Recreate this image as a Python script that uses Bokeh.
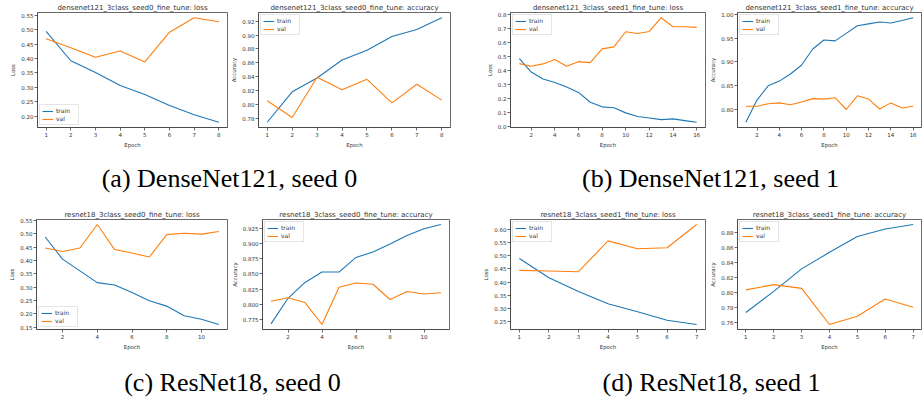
from bokeh.plotting import figure
from bokeh.layouts import column, row
from bokeh.models import Range1d, FixedTicker, Label, NumeralTickFormatter
from bokeh.embed import file_html
from bokeh.resources import INLINE

# ---- training curves (per-epoch values) ----
dn0_epochs = [1, 2, 3, 4, 5, 6, 7, 8]
dn0_loss_train = [0.494, 0.392, 0.351, 0.306, 0.275, 0.237, 0.205, 0.179]
dn0_loss_val = [0.468, 0.437, 0.404, 0.426, 0.388, 0.491, 0.541, 0.527]
dn0_acc_train = [0.774, 0.818, 0.838, 0.864, 0.878, 0.898, 0.908, 0.925]
dn0_acc_val = [0.805, 0.781, 0.839, 0.821, 0.836, 0.802, 0.829, 0.806]

dn1_epochs = list(range(1, 17))
dn1_loss_train = [0.485, 0.389, 0.339, 0.315, 0.282, 0.244, 0.174, 0.141,
                  0.134, 0.098, 0.072, 0.062, 0.050, 0.055, 0.043, 0.031]
dn1_loss_val = [0.449, 0.430, 0.447, 0.478, 0.430, 0.463, 0.456, 0.554,
                0.568, 0.676, 0.664, 0.678, 0.776, 0.712, 0.712, 0.707]
dn1_acc_train = [0.772, 0.819, 0.849, 0.859, 0.874, 0.893, 0.927, 0.946,
                 0.944, 0.960, 0.976, 0.980, 0.984, 0.982, 0.987, 0.993]
dn1_acc_val = [0.806, 0.806, 0.811, 0.813, 0.809, 0.815, 0.822, 0.821,
               0.824, 0.799, 0.828, 0.821, 0.800, 0.813, 0.802, 0.806]

rn0_epochs = list(range(1, 12))
rn0_loss_train = [0.488, 0.405, 0.361, 0.317, 0.308, 0.280, 0.249, 0.229, 0.193, 0.180, 0.160]
rn0_loss_val = [0.447, 0.434, 0.447, 0.535, 0.441, 0.428, 0.413, 0.497, 0.502, 0.499, 0.509]
rn0_acc_train = [0.768, 0.810, 0.836, 0.853, 0.853, 0.877, 0.886, 0.899, 0.913, 0.924, 0.931]
rn0_acc_val = [0.805, 0.811, 0.803, 0.767, 0.828, 0.835, 0.833, 0.808, 0.821, 0.817, 0.819]

rn1_epochs = [1, 2, 3, 4, 5, 6, 7]
rn1_loss_train = [0.489, 0.416, 0.364, 0.318, 0.287, 0.255, 0.239]
rn1_loss_val = [0.444, 0.442, 0.439, 0.556, 0.526, 0.530, 0.618]
rn1_acc_train = [0.773, 0.801, 0.831, 0.853, 0.874, 0.884, 0.890]
rn1_acc_val = [0.803, 0.810, 0.805, 0.757, 0.768, 0.791, 0.780]

# ---- tick sets ----
dn0_loss_ticks = [0.20, 0.25, 0.30, 0.35, 0.40, 0.45, 0.50, 0.55]
dn0_acc_ticks = [0.78, 0.80, 0.82, 0.84, 0.86, 0.88, 0.90, 0.92]
dn1_loss_ticks = [0.0, 0.1, 0.2, 0.3, 0.4, 0.5, 0.6, 0.7, 0.8]
dn1_acc_ticks = [0.80, 0.85, 0.90, 0.95, 1.00]
rn0_loss_ticks = [0.15, 0.20, 0.25, 0.30, 0.35, 0.40, 0.45, 0.50, 0.55]
rn0_acc_ticks = [0.775, 0.800, 0.825, 0.850, 0.875, 0.900, 0.925]
rn1_loss_ticks = [0.25, 0.30, 0.35, 0.40, 0.45, 0.50, 0.55, 0.60]
rn1_acc_ticks = [0.76, 0.78, 0.80, 0.82, 0.84, 0.86, 0.88]

captions = ["(a) DenseNet121, seed 0", "(b) DenseNet121, seed 1",
            "(c) ResNet18, seed 0", "(d) ResNet18, seed 1"]

BLUE = "#1f77b4"
ORANGE = "#ff7f0e"
TXT = "#333333"
SPINE = "#444444"
SANS = "DejaVu Sans"


def panel(title, ylabel, epochs, train, val, yticks, yfmt, xticks, legend_loc,
          width, height, left, right, top, bottom):
    xpad = 0.05 * (epochs[-1] - epochs[0])
    lo = min(train + val)
    hi = max(train + val)
    ypad = 0.05 * (hi - lo)
    p = figure(width=width, height=height, output_backend="svg", toolbar_location=None,
               x_range=Range1d(epochs[0] - xpad, epochs[-1] + xpad),
               y_range=Range1d(lo - ypad, hi + ypad),
               min_border_left=left, min_border_right=right,
               min_border_top=top, min_border_bottom=bottom,
               title=title)
    p.line(epochs, train, line_color=BLUE, line_width=1.1, legend_label="train")
    p.line(epochs, val, line_color=ORANGE, line_width=1.1, legend_label="val")

    p.grid.visible = False
    p.outline_line_color = SPINE
    p.outline_line_width = 0.8
    p.background_fill_color = "white"
    p.border_fill_color = "white"

    p.title.text_font = SANS
    p.title.text_font_size = "7px"
    p.title.text_font_style = "normal"
    p.title.text_color = TXT
    p.title.align = "center"
    p.title.standoff = 1
    p.title.offset = 0

    p.xaxis.axis_label = "Epoch"
    p.yaxis.axis_label = ylabel
    p.xaxis.ticker = FixedTicker(ticks=xticks)
    p.yaxis.ticker = FixedTicker(ticks=yticks)
    p.xaxis.formatter = NumeralTickFormatter(format="0")
    p.yaxis.formatter = NumeralTickFormatter(format=yfmt)
    for ax in (p.xaxis[0], p.yaxis[0]):
        ax.major_label_text_font = SANS
        ax.major_label_text_font_size = "5.5px"
        ax.major_label_text_color = TXT
        ax.axis_label_text_font = SANS
        ax.axis_label_text_font_size = "5.4px"
        ax.axis_label_text_font_style = "normal"
        ax.axis_label_text_color = TXT
        ax.axis_line_color = SPINE
        ax.axis_line_width = 0.8
        ax.major_tick_line_color = SPINE
        ax.major_tick_line_width = 0.8
        ax.major_tick_in = 0
        ax.major_tick_out = 3
        ax.minor_tick_in = 0
        ax.minor_tick_out = 0
        ax.major_label_standoff = 1
        ax.axis_label_standoff = 2

    lg = p.legend[0]
    lg.location = legend_loc
    lg.label_text_font = SANS
    lg.label_text_font_size = "6px"
    lg.label_text_color = TXT
    lg.glyph_width = 11
    lg.glyph_height = 6
    lg.label_height = 6
    lg.label_standoff = 3
    lg.spacing = 1
    lg.padding = 2
    lg.margin = 2
    lg.border_line_color = "#cccccc"
    lg.border_line_width = 0.8
    lg.background_fill_alpha = 0.8
    return p


def caption_strip(height, texts, xs, y, size):
    c = figure(width=923, height=height, output_backend="svg", toolbar_location=None,
               x_range=Range1d(0, 923), y_range=Range1d(0, height),
               x_axis_location=None, y_axis_location=None, min_border=0,
               outline_line_color=None)
    c.grid.visible = False
    for t, x in zip(texts, xs):
        c.add_layout(Label(x=x, y=y, text=t, text_align="center", text_baseline="middle",
                           text_font="Liberation Serif", text_font_size=size,
                           text_color="black"))
    return c


H1, T1, B1 = 150, 12, 23
H2, T2, B2 = 152, 19, 19

row1 = row(
    panel("densenet121_3class_seed0_fine_tune: loss", "Loss", dn0_epochs,
          dn0_loss_train, dn0_loss_val, dn0_loss_ticks, "0.00", dn0_epochs,
          "bottom_left", 228, H1, 37, 1, T1, B1),
    panel("densenet121_3class_seed0_fine_tune: accuracy", "Accuracy", dn0_epochs,
          dn0_acc_train, dn0_acc_val, dn0_acc_ticks, "0.00", dn0_epochs,
          "top_left", 232, H1, 29, 10, T1, B1),
    panel("densenet121_3class_seed1_fine_tune: loss", "Loss", dn1_epochs,
          dn1_loss_train, dn1_loss_val, dn1_loss_ticks, "0.0", list(range(2, 17, 2)),
          "top_left", 247, H1, 50, 2, T1, B1),
    panel("densenet121_3class_seed1_fine_tune: accuracy", "Accuracy", dn1_epochs,
          dn1_acc_train, dn1_acc_val, dn1_acc_ticks, "0.00", list(range(2, 17, 2)),
          "top_left", 216, H1, 26, 2, T1, B1),
    spacing=0)

row2 = row(
    panel("resnet18_3class_seed0_fine_tune: loss", "Loss", rn0_epochs,
          rn0_loss_train, rn0_loss_val, rn0_loss_ticks, "0.00", list(range(2, 11, 2)),
          "bottom_left", 228, H2, 36, 1, T2, B2),
    panel("resnet18_3class_seed0_fine_tune: accuracy", "Accuracy", rn0_epochs,
          rn0_acc_train, rn0_acc_val, rn0_acc_ticks, "0.000", list(range(2, 11, 2)),
          "top_left", 232, H2, 29, 11, T2, B2),
    panel("resnet18_3class_seed1_fine_tune: loss", "Loss", rn1_epochs,
          rn1_loss_train, rn1_loss_val, rn1_loss_ticks, "0.00", rn1_epochs,
          "top_left", 247, H2, 50, 2, T2, B2),
    panel("resnet18_3class_seed1_fine_tune: accuracy", "Accuracy", rn1_epochs,
          rn1_acc_train, rn1_acc_val, rn1_acc_ticks, "0.00", rn1_epochs,
          "top_left", 216, H2, 26, 2, T2, B2),
    spacing=0)

cap1 = caption_strip(50, captions[:2], [229, 710], 22, "26px")
cap2 = caption_strip(49, captions[2:], [232, 711], 19, "26px")

layout = column(row1, cap1, row2, cap2, spacing=0)

open("out.html", "w").write(file_html(layout, INLINE))
